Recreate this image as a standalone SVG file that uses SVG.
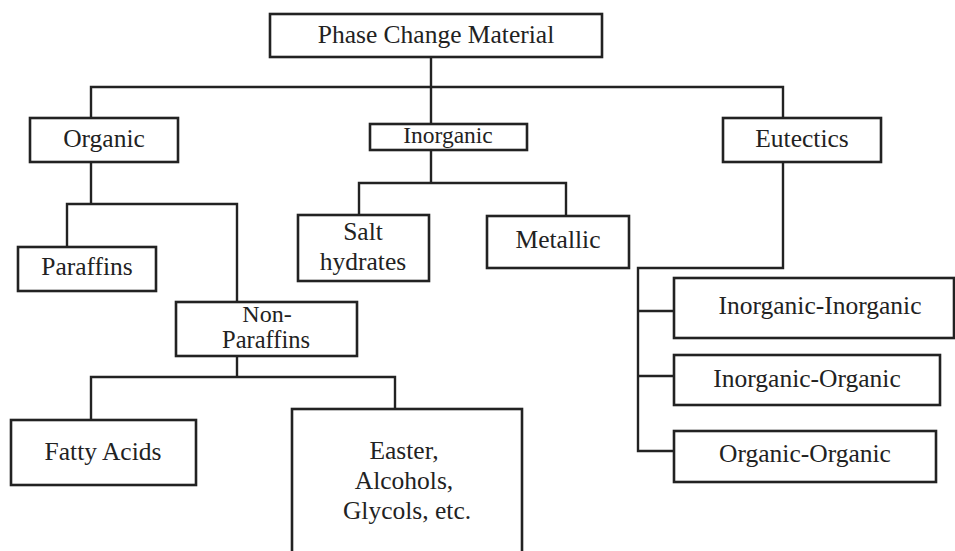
<svg xmlns="http://www.w3.org/2000/svg" width="955" height="551" viewBox="0 0 955 551">
<style>
  .box { fill: #ffffff; stroke: #222222; stroke-width: 2.6; }
  .line { fill: none; stroke: #222222; stroke-width: 2.4; }
  .t { font-family: "Liberation Serif", "Times New Roman", serif; font-size: 25.5px; fill: #222222; text-anchor: middle; }
</style>
<rect width="955" height="551" fill="#ffffff"/>
<g id="connectors">
  <path class="line" d="M431 57 V124"/>
  <path class="line" d="M91 118 V87 H783 V118"/>
  <path class="line" d="M91 162 V204"/>
  <path class="line" d="M67 247 V204 H237 V302"/>
  <path class="line" d="M431 150 V183"/>
  <path class="line" d="M359 215 V183 H566 V216"/>
  <path class="line" d="M237 356 V377"/>
  <path class="line" d="M91 420 V377 H395 V409"/>
  <path class="line" d="M783 162 V268 H638 V451 H674"/>
  <path class="line" d="M638 311 H674"/>
  <path class="line" d="M638 376 H674"/>
</g>
<g id="pcm">
  <rect class="box" x="270" y="14" width="332" height="43"/>
  <text class="t" x="436" y="43">Phase Change Material</text>
</g>
<g id="organic">
  <rect class="box" x="30" y="118" width="148" height="44"/>
  <text class="t" x="104" y="147">Organic</text>
</g>
<g id="inorganic">
  <rect class="box" x="370" y="124" width="157" height="26"/>
  <text class="t" x="448" y="143" style="font-size:23.5px">Inorganic</text>
</g>
<g id="eutectics">
  <rect class="box" x="723" y="118" width="158" height="44"/>
  <text class="t" x="802" y="147">Eutectics</text>
</g>
<g id="paraffins">
  <rect class="box" x="18" y="247" width="138" height="44"/>
  <text class="t" x="87" y="275">Paraffins</text>
</g>
<g id="salt-hydrates">
  <rect class="box" x="298" y="215" width="131" height="66"/>
  <text class="t" x="363" y="240">Salt</text>
  <text class="t" x="363" y="270">hydrates</text>
</g>
<g id="metallic">
  <rect class="box" x="487" y="216" width="142" height="52"/>
  <text class="t" x="558" y="248">Metallic</text>
</g>
<g id="non-paraffins">
  <rect class="box" x="176" y="302" width="181" height="54"/>
  <text class="t" x="267" y="322" style="font-size:24px">Non-</text>
  <text class="t" x="266" y="348" style="font-size:24.5px">Paraffins</text>
</g>
<g id="fatty-acids">
  <rect class="box" x="11" y="420" width="185" height="65"/>
  <text class="t" x="103" y="460">Fatty Acids</text>
</g>
<g id="easter">
  <rect class="box" x="292" y="409" width="230" height="160"/>
  <text class="t" x="404" y="459">Easter,</text>
  <text class="t" x="404" y="489">Alcohols,</text>
  <text class="t" x="407" y="519">Glycols, etc.</text>
</g>
<g id="inorganic-inorganic">
  <rect class="box" x="674" y="278" width="280" height="60"/>
  <text class="t" x="820" y="314">Inorganic-Inorganic</text>
</g>
<g id="inorganic-organic">
  <rect class="box" x="674" y="355" width="266" height="50"/>
  <text class="t" x="807" y="387">Inorganic-Organic</text>
</g>
<g id="organic-organic">
  <rect class="box" x="674" y="431" width="262" height="51"/>
  <text class="t" x="805" y="462">Organic-Organic</text>
</g>
</svg>
